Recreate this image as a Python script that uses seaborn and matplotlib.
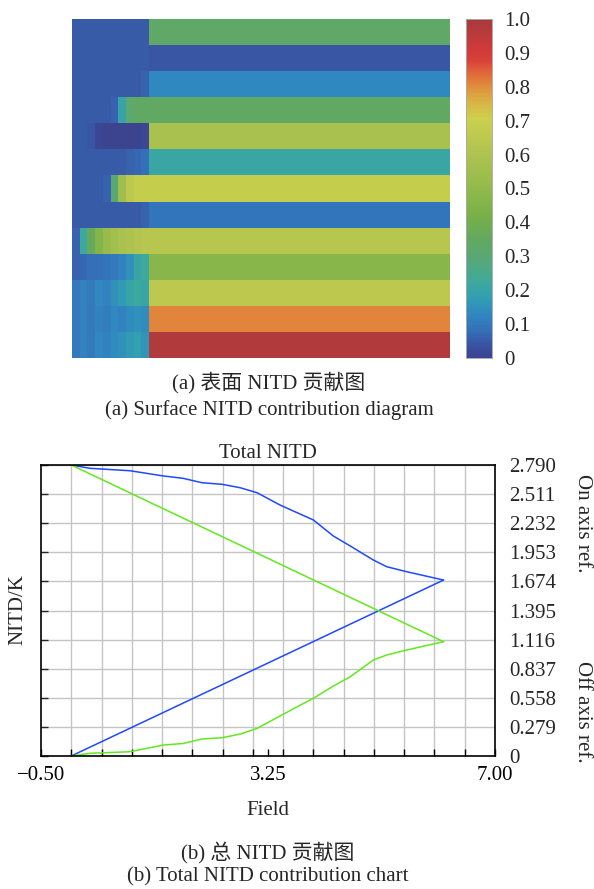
import numpy as np
import matplotlib
matplotlib.use("Agg")
import matplotlib.pyplot as plt
from matplotlib.colors import LinearSegmentedColormap
from matplotlib.ticker import FixedLocator
import seaborn as sns

# ---- surface NITD contribution (normalised, one row per surface) ----
row_levels = [0.33, 0.04, 0.13, 0.34, 0.58, 0.21, 0.68, 0.09, 0.63, 0.47, 0.65, 0.81, 0.98]
left_block = [
    [0.05, 0.05, 0.05, 0.05, 0.05, 0.05, 0.05, 0.05, 0.05, 0.05],
    [0.05, 0.05, 0.05, 0.05, 0.05, 0.05, 0.05, 0.05, 0.05, 0.05],
    [0.05, 0.05, 0.05, 0.05, 0.05, 0.05, 0.05, 0.05, 0.05, 0.06],
    [0.05, 0.05, 0.05, 0.05, 0.05, 0.06, 0.20, 0.32, 0.34, 0.34],
    [0.05, 0.05, 0.04, 0.01, 0.00, 0.00, 0.00, 0.00, 0.00, 0.01],
    [0.05, 0.05, 0.05, 0.05, 0.05, 0.05, 0.05, 0.06, 0.07, 0.08],
    [0.05, 0.05, 0.05, 0.05, 0.06, 0.30, 0.55, 0.65, 0.68, 0.68],
    [0.05, 0.05, 0.05, 0.05, 0.05, 0.05, 0.05, 0.05, 0.05, 0.06],
    [0.06, 0.22, 0.36, 0.46, 0.52, 0.56, 0.58, 0.60, 0.62, 0.63],
    [0.06, 0.07, 0.08, 0.08, 0.09, 0.10, 0.12, 0.15, 0.20, 0.22],
    [0.10, 0.12, 0.10, 0.13, 0.12, 0.15, 0.17, 0.20, 0.22, 0.20],
    [0.10, 0.12, 0.10, 0.12, 0.11, 0.13, 0.12, 0.14, 0.15, 0.14],
    [0.10, 0.12, 0.10, 0.13, 0.12, 0.14, 0.15, 0.17, 0.18, 0.16],
]
n_right_cols = 39
cbar_ticks = [0.0, 0.1, 0.2, 0.3, 0.4, 0.5, 0.6, 0.7, 0.8, 0.9, 1.0]
cbar_labels = ["0", "0.1", "0.2", "0.3", "0.4", "0.5", "0.6", "0.7", "0.8", "0.9", "1.0"]

# ---- total NITD versus field ----
field = [0.00, 0.31, 0.97, 1.52, 1.85, 2.16, 2.49, 2.79, 3.07, 3.45, 3.78,
         4.00, 4.33, 4.61, 4.99, 5.21, 5.54, 6.15]
on_axis_curve = [2.790, 2.758, 2.735, 2.685, 2.662, 2.620, 2.605, 2.572, 2.524, 2.406, 2.320,
                 2.263, 2.109, 2.013, 1.879, 1.815, 1.767, 1.687]
off_axis_curve = [0.000, 0.026, 0.041, 0.105, 0.120, 0.163, 0.175, 0.210, 0.265, 0.384, 0.487,
                  0.553, 0.671, 0.760, 0.920, 0.968, 1.016, 1.096]
line_field = [0.00, 6.15]
on_axis_line = [0.000, 1.687]
off_axis_line = [2.790, 1.096]
y_ticks = [0.0, 0.279, 0.558, 0.837, 1.116, 1.395, 1.674, 1.953, 2.232, 2.511, 2.790]
y_labels = ["0", "0.279", "0.558", "0.837", "1.116", "1.395", "1.674", "1.953", "2.232", "2.511", "2.790"]
x_ticks = [-0.50, 3.25, 7.00]
x_labels = ["\u22120.50", "3.25", "7.00"]

sns.set_style("white")
plt.rcParams["font.family"] = ["Liberation Serif", "Noto Sans CJK SC"]
plt.rcParams["font.size"] = 15
plt.rcParams["axes.unicode_minus"] = True

W, H = 594, 889
fig = plt.figure(figsize=(W / 100, H / 100), dpi=100)

def box(x0, y0, x1, y1):
    return [x0 / W, 1 - y1 / H, (x1 - x0) / W, (y1 - y0) / H]

# heat map panel
ax_h = fig.add_axes(box(72, 19, 449.5, 358))
cax = fig.add_axes(box(466, 19, 492, 358))

cmap = LinearSegmentedColormap.from_list("nitd", [
    (0.00, "#3c4490"), (0.03, "#3a50a0"), (0.08, "#3470b8"), (0.13, "#3088c0"),
    (0.18, "#32a0b0"), (0.23, "#40aa98"), (0.285, "#56a87a"), (0.345, "#62a860"),
    (0.42, "#78b048"), (0.52, "#98bc4c"), (0.62, "#b4c450"), (0.707, "#ccd04c"),
    (0.755, "#d8b444"), (0.80, "#e0903c"), (0.84, "#e06a38"), (0.88, "#d84038"),
    (0.91, "#d23a3a"), (1.00, "#a63a3c"),
])

mat = np.array([lb + [lvl] * n_right_cols for lb, lvl in zip(left_block, row_levels)])
sns.heatmap(mat, ax=ax_h, cbar_ax=cax, cmap=cmap, vmin=0, vmax=1,
            xticklabels=False, yticklabels=False)
cax.set_yticks(cbar_ticks)
cax.set_yticklabels(cbar_labels)
cax.tick_params(axis="y", length=0, pad=9, labelsize=15)
for sp in cax.spines.values():
    sp.set_visible(True)
    sp.set_color("#aaaaaa")
    sp.set_linewidth(0.5)

fig.text(269 / W, 1 - 383 / H, "(a) 表面 NITD 贡献图", ha="center", va="center", fontsize=15)
fig.text(269 / W, 1 - 410 / H, "(a) Surface NITD contribution diagram", ha="center", va="center", fontsize=15)

# total NITD panel
ax = fig.add_axes(box(41, 465, 495, 756))
blue = "#1f48ff"
green = "#62e81e"
sns.lineplot(x=field, y=on_axis_curve, ax=ax, color=blue, lw=1.1, sort=False, estimator=None)
sns.lineplot(x=line_field, y=on_axis_line, ax=ax, color=blue, lw=1.1, sort=False, estimator=None)
sns.lineplot(x=field, y=off_axis_curve, ax=ax, color=green, lw=1.1, sort=False, estimator=None)
sns.lineplot(x=line_field, y=off_axis_line, ax=ax, color=green, lw=1.1, sort=False, estimator=None)

ax.set_xlim(-0.5, 7.0)
ax.set_ylim(0, 2.79)
ax.set_xticks(x_ticks)
ax.set_xticklabels(x_labels)
ax.xaxis.set_minor_locator(FixedLocator(np.arange(-0.5, 7.01, 0.5)))
ax.set_yticks(y_ticks)
ax.set_yticklabels(y_labels)
ax.grid(False)
ax.grid(True, axis="x", which="minor", color="#c4c4c4", lw=1.0)
ax.grid(True, axis="y", which="major", color="#c4c4c4", lw=1.0)
ax.set_axisbelow(True)
ax.tick_params(axis="x", which="both", direction="in", length=5, width=1, bottom=True, top=False,
               colors="black", pad=7, labelsize=15)
ax.tick_params(axis="y", which="major", direction="in", length=5, width=1, left=True, right=False,
               labelleft=False, labelright=True, pad=10, labelsize=15)
for sp in ax.spines.values():
    sp.set_visible(True)
    sp.set_color("black")
    sp.set_linewidth(1.2)

ax.set_title("Total NITD", fontsize=15, pad=5)
ax.set_xlabel("Field", fontsize=15)
ax.xaxis.set_label_coords(0.5, -0.155)
fig.text(18 / W, 1 - 610 / H, "NITD/K", rotation=90, ha="center", va="center", fontsize=15)

fig.text(582 / W, 1 - 523 / H, "On axis ref.", rotation=270, ha="center", va="center", fontsize=15)
fig.text(582 / W, 1 - 712 / H, "Off axis ref.", rotation=270, ha="center", va="center", fontsize=15)

fig.text(268 / W, 1 - 852 / H, "(b) 总 NITD 贡献图", ha="center", va="center", fontsize=15)
fig.text(268 / W, 1 - 877 / H, "(b) Total NITD contribution chart", ha="center", va="center", fontsize=15)

fig.savefig("out.png", dpi=100)
